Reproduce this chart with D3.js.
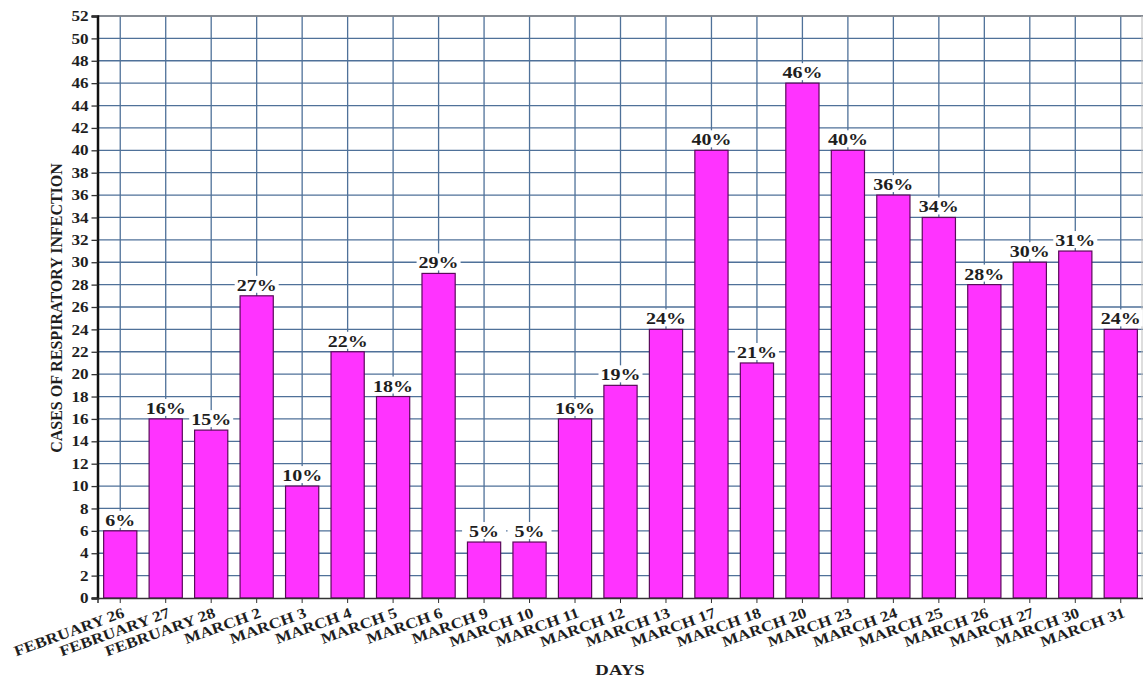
<!DOCTYPE html>
<html><head><meta charset="utf-8">
<script src="https://cdn.jsdelivr.net/npm/d3@7"></script>
<style>body{margin:0;background:#fff}</style>
</head><body>
<svg id="c" width="1143" height="679"></svg>
<script>
const categories = ["FEBRUARY 26","FEBRUARY 27","FEBRUARY 28","MARCH 2","MARCH 3","MARCH 4","MARCH 5","MARCH 6","MARCH 9","MARCH 10","MARCH 11","MARCH 12","MARCH 13","MARCH 17","MARCH 18","MARCH 20","MARCH 23","MARCH 24","MARCH 25","MARCH 26","MARCH 27","MARCH 30","MARCH 31"];
const values = [6,16,15,27,10,22,18,29,5,5,16,19,24,40,21,46,40,36,34,28,30,31,24];
const yTicks = d3.range(0, 53, 2);

const svg = d3.select("#c");
const m = {l: 97.5, r: 1143.5, t: 16, b: 598};
const x = d3.scaleBand().domain(categories).range([m.l, m.r]).paddingInner(0.27).paddingOuter(0.135);
const y = d3.scaleLinear().domain([0, 52]).range([m.b, m.t]);
const font = "'Liberation Serif','Times New Roman',serif";
const gridColor = "#4f7199";
const ink = "#1e1e1e";

// horizontal grid
svg.append("g").selectAll("line").data(yTicks.filter(d=>d>0)).join("line")
  .attr("x1", m.l).attr("x2", m.r).attr("y1", d=>y(d)).attr("y2", d=>y(d))
  .attr("stroke", gridColor).attr("stroke-width", 1.3);
// vertical grid at category centers
svg.append("g").selectAll("line").data(categories).join("line")
  .attr("x1", d=>x(d)+x.bandwidth()/2).attr("x2", d=>x(d)+x.bandwidth()/2)
  .attr("y1", m.t).attr("y2", m.b)
  .attr("stroke", gridColor).attr("stroke-width", 1.3);
// top / right border
svg.append("line").attr("x1", m.l).attr("x2", m.r).attr("y1", m.t).attr("y2", m.t)
  .attr("stroke", "#888").attr("stroke-width", 1.5);
svg.append("line").attr("x1", 1142).attr("x2", 1142).attr("y1", m.t).attr("y2", m.b)
  .attr("stroke", "#bbb").attr("stroke-width", 1);

// bars
svg.append("g").selectAll("rect").data(values).join("rect")
  .attr("x", (d,i)=>x(categories[i])).attr("width", x.bandwidth())
  .attr("y", d=>y(d)).attr("height", d=>y(0)-y(d))
  .attr("fill", "#ff33ff").attr("stroke", "#5a0a5a").attr("stroke-width", 1.2);

// value labels with white background
const lbl = svg.append("g").selectAll("g").data(values).join("g")
  .attr("transform", (d,i)=>`translate(${x(categories[i])+x.bandwidth()/2},${y(d)-5})`);
lbl.append("rect").attr("x", -22).attr("y", -15).attr("width", 44).attr("height", 17).attr("fill", "#fff");
lbl.append("text").attr("text-anchor", "middle").attr("font-family", font).attr("font-weight", "bold")
  .attr("font-size", 16).attr("fill", ink).attr("transform", "scale(1.25,1)").text(d=>d+"%");

// y axis
const ya = svg.append("g").attr("transform", `translate(${m.l},0)`)
  .call(d3.axisLeft(y).tickValues(yTicks).tickSize(6).tickPadding(0));
ya.select(".domain").attr("stroke", "#111").attr("stroke-width", 2.5);
ya.selectAll(".tick line").attr("stroke", "#333").attr("stroke-width", 1.3);
ya.selectAll("text").attr("font-family", font).attr("font-weight", "bold").attr("font-size", 14.5).attr("fill", ink)
  .attr("x", null).attr("transform", "translate(-9,0) scale(1.18,1)");

// x axis
const xa = svg.append("g").attr("transform", `translate(0,${m.b})`)
  .call(d3.axisBottom(x).tickSize(5).tickPadding(2));
xa.select(".domain").attr("stroke", "#333").attr("stroke-width", 1.5);
xa.selectAll(".tick line").attr("stroke", "#333");
xa.selectAll("text").attr("font-family", font).attr("font-weight", "bold").attr("font-size", 15).attr("fill", ink)
  .attr("text-anchor", "end").attr("dy", "0.72em")
  .attr("transform", "translate(-1,2) rotate(-20) scale(1.15,1)");

// titles
svg.append("text").attr("transform", "translate(620,675) scale(1.25,1)").attr("text-anchor", "middle")
  .attr("font-family", font).attr("font-weight", "bold").attr("font-size", 15).attr("fill", ink).text("DAYS");
svg.append("text").attr("transform", `translate(62,${(m.t+m.b)/2+1}) rotate(-90)`).attr("text-anchor", "middle")
  .attr("font-family", font).attr("font-weight", "bold").attr("font-size", 16).attr("fill", ink).text("CASES OF RESPIRATORY INFECTION");
</script>
</body></html>
